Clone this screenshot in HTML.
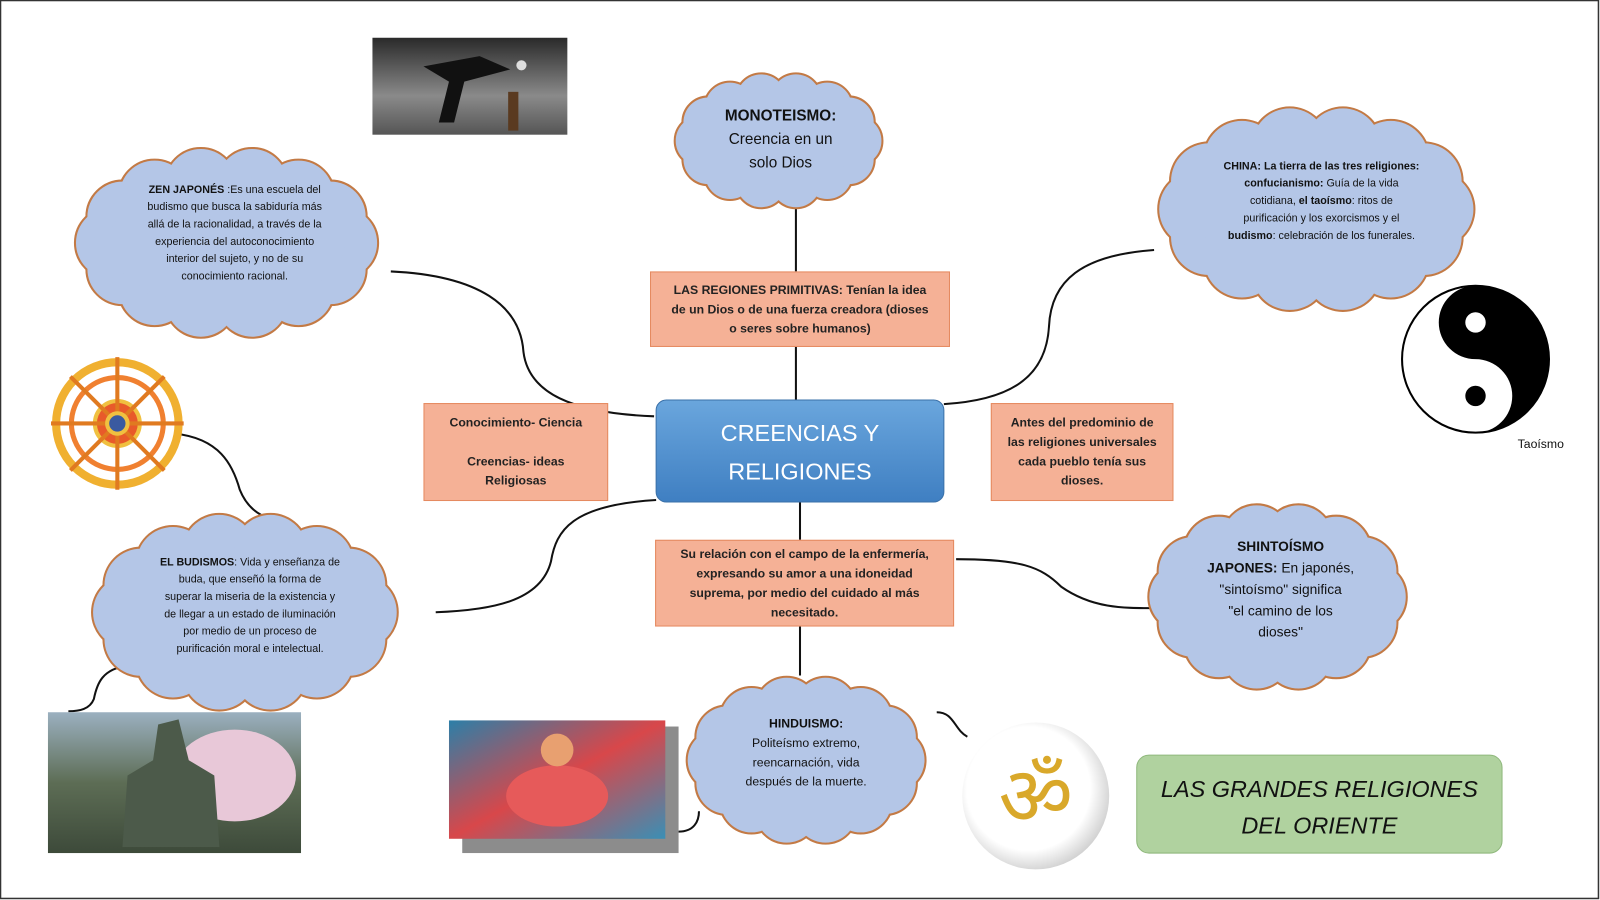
<!DOCTYPE html>
<html><head><meta charset="utf-8">
<style>
html,body{margin:0;padding:0;background:#fff;overflow:hidden}
#w{position:absolute;left:0;top:0;width:1568px;height:882px;transform:scale(1.020408);transform-origin:0 0;font-family:"Liberation Sans",sans-serif}
.t{position:absolute;text-align:center;color:#111;font-size:11.5px;line-height:17px}
.box{position:absolute;background:#f5b196;border:1px solid #e58a60;display:flex;align-items:center;justify-content:center;text-align:center;font-weight:bold;font-size:12px;line-height:19px;color:#222;box-sizing:border-box}
</style></head><body>
<div id="w">
<svg id="s" width="1568" height="882" style="position:absolute;left:0;top:0">
<rect x="0.5" y="0.5" width="1566" height="880" fill="none" stroke="#333" stroke-width="1.5"/>
<defs>
<linearGradient id="ph" x1="0" y1="0" x2="0" y2="1"><stop offset="0" stop-color="#2a2a2a"/><stop offset=".6" stop-color="#8a8a8a"/><stop offset="1" stop-color="#555"/></linearGradient>
<linearGradient id="bl" x1="0" y1="0" x2="0" y2="1"><stop offset="0" stop-color="#6aa6dd"/><stop offset="1" stop-color="#3f7fc2"/></linearGradient>
<radialGradient id="om" cx=".45" cy=".45" r=".6"><stop offset=".7" stop-color="#fff"/><stop offset="1" stop-color="#c8c8c8"/></radialGradient>
<linearGradient id="bd" x1="0" y1="0" x2="0" y2="1"><stop offset="0" stop-color="#9bb0c0"/><stop offset=".5" stop-color="#5d6d55"/><stop offset="1" stop-color="#3d4a3a"/></linearGradient>
<linearGradient id="hi" x1="0" y1="0" x2="1" y2="1"><stop offset="0" stop-color="#2c7fa8"/><stop offset=".5" stop-color="#d8474a"/><stop offset="1" stop-color="#3a8fb5"/></linearGradient>
</defs>
<g fill="none" stroke="#111" stroke-width="2">
<line x1="780" y1="200" x2="780" y2="266"/>
<line x1="780" y1="340" x2="780" y2="392"/>
<line x1="784" y1="492" x2="784" y2="529"/>
<line x1="784" y1="614" x2="784" y2="662"/>
<path d="M383,266 C470,270 510,300 513,345 C518,385 560,405 641,408"/>
<path d="M643,490 C560,495 545,520 540,550 C530,590 480,598 427,600"/>
<path d="M1131,245 C1060,250 1030,275 1028,320 C1025,370 990,392 925,396"/>
<path d="M937,548 C1000,548 1020,555 1040,575 C1070,596 1100,596 1131,596"/>
<path d="M172,425 C215,430 228,455 235,480 C245,505 265,510 282,512"/>
<path d="M127,652 C100,655 95,670 92,685 C88,695 78,697 67,697"/>
<path d="M665,815 C680,815 685,805 685,795"/>
<path d="M918,698 C935,698 935,715 948,722"/>
</g>
<rect x="365" y="37" width="191" height="95" fill="url(#ph)"/>
<path d="M430,120 L440,80 L415,65 L470,55 L500,68 L455,80 L445,120Z" fill="#111"/>
<circle cx="511" cy="64" r="5" fill="#ddd"/>
<rect x="498" y="90" width="10" height="38" fill="#5a3a20"/>
<rect x="453" y="712" width="212" height="124" fill="#8c8c8c"/>
<rect x="440" y="706" width="212" height="116" fill="url(#hi)"/>
<ellipse cx="546" cy="780" rx="50" ry="30" fill="#e65a5a"/>
<circle cx="546" cy="735" r="16" fill="#e8a070"/>
<rect x="47" y="698" width="248" height="138" fill="url(#bd)"/>
<ellipse cx="230" cy="760" rx="60" ry="45" fill="#e8c8d8"/>
<path d="M120,830 L125,760 L150,745 L155,710 L175,705 L185,745 L210,760 L215,830Z" fill="#4c5a4a"/>
<g transform="translate(1446,352)">
<circle r="72" fill="#fff" stroke="#000" stroke-width="2"/>
<path d="M0,-72 A72,72 0 0 1 0,72 A36,36 0 0 0 0,0 A36,36 0 0 1 0,-72Z" fill="#000"/>
<circle cy="-36" r="10" fill="#fff"/><circle cy="36" r="10" fill="#000"/>
</g>
<g transform="translate(115,415)" stroke="#e07a20" stroke-width="4" fill="none">
<circle r="60" stroke="#f0b030" stroke-width="8"/>
<circle r="45" stroke="#f08030" stroke-width="5"/>
<circle r="22" fill="#e85a2a" stroke="#f0c040"/>
<line x1="-65" y1="0" x2="65" y2="0"/><line x1="0" y1="-65" x2="0" y2="65"/>
<line x1="-46" y1="-46" x2="46" y2="46"/><line x1="-46" y1="46" x2="46" y2="-46"/>
<circle r="10" fill="#3a5aa0" stroke="#f0c040"/>
</g>
<circle cx="1015" cy="780" r="72" fill="url(#om)"/>
<text x="1015" y="808" text-anchor="middle" font-size="80" fill="#d9a82a" font-family="DejaVu Sans,sans-serif">ॐ</text>
<g id="clouds"></g>
<rect x="643" y="392" width="282" height="100" rx="10" fill="url(#bl)" stroke="#3a70a8"/>
<rect x="1114" y="740" width="358" height="96" rx="12" fill="#b0d29f" stroke="#8fb87c"/>
</svg>
<div class="t" style="left:643px;top:405px;width:282px;color:#fff;font-size:23px;line-height:38px">CREENCIAS Y<br>RELIGIONES</div>
<div class="t" style="left:1114px;top:755px;width:358px;font-size:23px;line-height:36px;font-style:italic">LAS GRANDES RELIGIONES<br>DEL ORIENTE</div>
<div class="box" style="left:637px;top:266px;width:294px;height:74px">LAS REGIONES PRIMITIVAS: Tenían la idea<br>de un Dios o de una fuerza creadora (dioses<br>o seres sobre humanos)</div>
<div class="box" style="left:415px;top:395px;width:181px;height:96px">Conocimiento- Ciencia<br><br>Creencias- ideas<br>Religiosas</div>
<div class="box" style="left:971px;top:395px;width:179px;height:96px">Antes del predominio de<br>las religiones universales<br>cada pueblo tenía sus<br>dioses.</div>
<div class="box" style="left:642px;top:529px;width:293px;height:85px">Su relación con el campo de la enfermería,<br>expresando su amor a una idoneidad<br>suprema, por medio del cuidado al más<br>necesitado.</div>
<div class="t" style="left:665px;top:102px;width:200px;font-size:15px;line-height:23px"><b>MONOTEISMO:</b><br>Creencia en un<br>solo Dios</div>
<div class="t" style="left:125px;top:178px;width:210px;font-size:10.5px">
<b>ZEN JAPONÉS</b> :Es una escuela del<br>budismo que busca la sabiduría más<br>allá de la racionalidad, a través de la<br>experiencia del autoconocimiento<br>interior del sujeto, y no de su<br>conocimiento racional.</div>
<div class="t" style="left:1185px;top:155px;width:220px;font-size:10.5px"><b>CHINA: La tierra de las tres religiones:</b><br><b>confucianismo:</b> Guía de la vida<br>cotidiana, <b>el taoísmo</b>: ritos de<br>purificación y los exorcismos y  el<br><b>budismo</b>: celebración de los funerales.</div>
<div class="t" style="left:140px;top:543px;width:210px;font-size:10.5px"><b>EL BUDISMOS</b>: Vida y enseñanza de<br>buda, que enseñó la forma de<br>superar la miseria de la existencia y<br>de llegar a un estado de iluminación<br>por medio de un proceso de<br>purificación moral e intelectual.</div>
<div class="t" style="left:1170px;top:525px;width:170px;font-size:13.5px;line-height:21px"><b>SHINTOÍSMO</b><br><b>JAPONES:</b> En japonés,<br>"sintoísmo" significa<br>"el camino de los<br>dioses"</div>
<div class="t" style="left:715px;top:700px;width:150px;font-size:12px;line-height:19px"><b>HINDUISMO:</b><br>Politeísmo extremo,<br>reencarnación, vida<br>después de la muerte.</div>
<div class="t" style="left:1470px;top:427px;width:80px;font-size:12px">Taoísmo</div>
</div>
<script>
var clouds=[[763,138,98,58],[222,238,145,82],[1290,205,150,88],[240,600,145,85],[1252,585,118,80],[790,745,110,72]];
var g=document.getElementById('clouds'),a='',b='';
clouds.forEach(function(c){var n=14;for(var i=0;i<n;i++){var t=i/n*Math.PI*2,x=c[0]+Math.cos(t)*c[2]*0.78,y=c[1]+Math.sin(t)*c[3]*0.72,r=Math.min(c[2],c[3])*0.42;
a+='<circle cx="'+x+'" cy="'+y+'" r="'+r+'" fill="#c37a45" stroke="#c37a45" stroke-width="4"/>';
b+='<circle cx="'+x+'" cy="'+y+'" r="'+r+'" fill="#b4c6e7"/>';}
b+='<ellipse cx="'+c[0]+'" cy="'+c[1]+'" rx="'+c[2]*0.8+'" ry="'+c[3]*0.75+'" fill="#b4c6e7"/>';});
g.innerHTML=a+b;
</script>
</body></html>
